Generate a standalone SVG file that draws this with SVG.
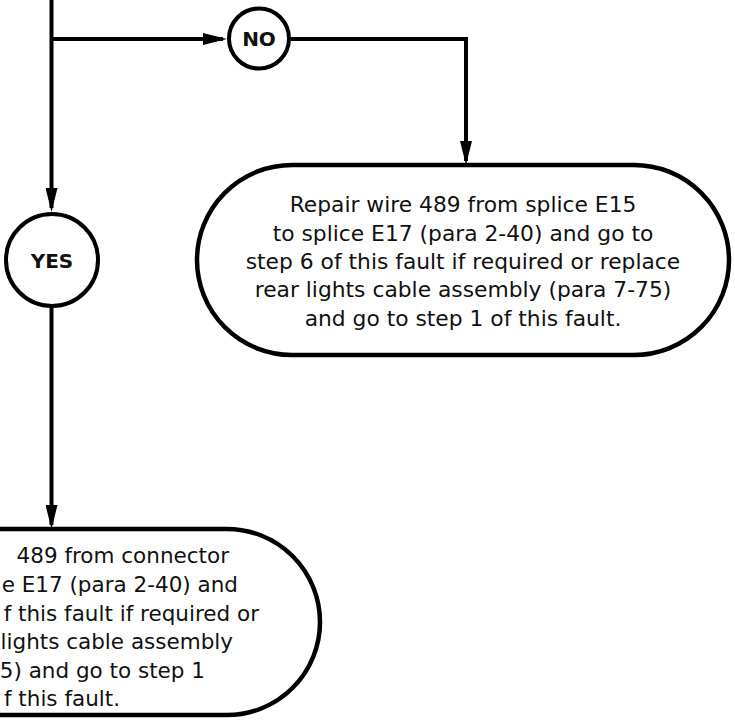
<svg xmlns="http://www.w3.org/2000/svg" width="735" height="721" viewBox="0 0 735 721">
<style>
.line{fill:none;stroke:#000;stroke-width:4}
.shape{fill:#fff;stroke:#000;stroke-width:4.5}
.circ{fill:#fff;stroke:#000;stroke-width:4}
.txt{font-family:"DejaVu Sans",Verdana,sans-serif;font-size:21.8px;fill:#111;text-anchor:middle}
.frag{font-family:"DejaVu Sans",Verdana,sans-serif;font-size:21.5px;fill:#111;text-anchor:end}
.lbl{font-family:"DejaVu Sans",Verdana,sans-serif;font-size:20px;font-weight:bold;fill:#111;text-anchor:middle}
</style>
<defs>
<marker id="arr" viewBox="0 0 24 12" refX="20" refY="6" markerWidth="24" markerHeight="12" markerUnits="userSpaceOnUse" orient="auto">
<path d="M0,0 L24,6 L0,12 Z" fill="#000"/>
</marker>
</defs>
<rect width="735" height="721" fill="#fff"/>
<g id="connectors">
<path class="line" d="M51.5,0 V208" marker-end="url(#arr)"/>
<path class="line" d="M51.5,39 H223" marker-end="url(#arr)"/>
<path class="line" d="M291,39 H466 V161" marker-end="url(#arr)"/>
<path class="line" d="M51.5,308 V525" marker-end="url(#arr)"/>
</g>
<g id="no">
<circle class="circ" cx="259" cy="38.5" r="30"/>
<text class="lbl" x="259" y="46">NO</text>
</g>
<g id="yes">
<circle class="circ" cx="52" cy="260" r="46"/>
<text class="lbl" x="52" y="268">YES</text>
</g>
<g id="repair-splice">
<path class="shape" d="M292,165 H634 A95,95 0 0 1 634,355 H292 A95,95 0 0 1 292,165 Z"/>
<text class="txt" x="463" y="212">Repair wire 489 from splice E15</text>
<text class="txt" x="463" y="241">to splice E17 (para 2-40) and go to</text>
<text class="txt" x="463" y="269">step 6 of this fault if required or replace</text>
<text class="txt" x="463" y="297">rear lights cable assembly (para 7-75)</text>
<text class="txt" x="463" y="326">and go to step 1 of this fault.</text>
</g>
<g id="repair-connector">
<path class="shape" d="M-122,529 H227 A93,93 0 0 1 227,715 H-122 A93,93 0 0 1 -122,529 Z"/>
<text class="frag" x="229" y="563">489 from connector</text>
<text class="frag" x="238" y="592">e E17 (para 2-40) and</text>
<text class="frag" x="259" y="621">f this fault if required or</text>
<text class="frag" x="233" y="649">lights cable assembly</text>
<text class="frag" x="205" y="678">5) and go to step 1</text>
<text class="frag" x="120" y="706">f this fault.</text>
</g>
</svg>
